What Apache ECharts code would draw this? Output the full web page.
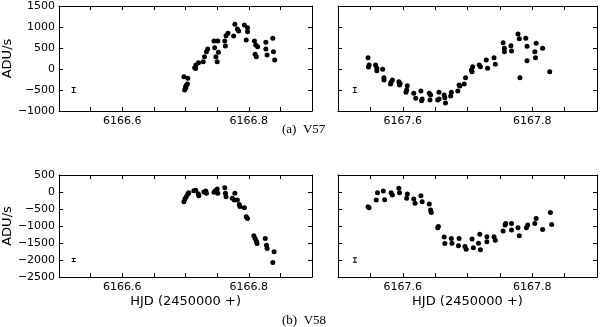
<!DOCTYPE html>
<html>
<head>
<meta charset="utf-8">
<script src="https://cdn.jsdelivr.net/npm/echarts@6/dist/echarts.min.js"></script>
<style>
  html, body { margin: 0; padding: 0; background: #fff; }
  #chart { width: 600px; height: 327px; }
</style>
</head>
<body>
<div id="chart"></div>
<script>
// V57, first night (HJD - 2450000, ADU/s)
var v57Night1 = [
    [6166.6974, -183], [6166.7036, -222], [6166.7015, -381], [6166.7000, -421], [6166.6985, -500],
    [6166.7005, -450], [6166.7030, -360], [6166.7144, 32], [6166.7160, 10], [6166.7164, 95],
    [6166.7205, 151], [6166.7280, 175], [6166.7300, 294], [6166.7330, 413], [6166.7350, 476],
    [6166.7450, 667], [6166.7510, 667], [6166.7460, 508], [6166.7520, 397], [6166.7480, 294],
    [6166.7500, 175], [6166.7620, 667], [6166.7640, 794], [6166.7670, 850], [6166.7630, 548],
    [6166.7760, 786], [6166.7780, 1064], [6166.7820, 953], [6166.7840, 905], [6166.7930, 1048],
    [6166.7980, 985], [6166.7980, 889], [6166.7960, 691], [6166.8090, 667], [6166.8110, 572],
    [6166.8140, 532], [6166.8100, 349], [6166.8120, 294], [6166.8270, 635], [6166.8270, 476],
    [6166.8290, 333], [6166.8380, 730], [6166.8390, 413], [6166.8410, 214]
];
// V57, second night
var v57Night2 = [
    [6167.5464, 270], [6167.5480, 95], [6167.5470, 48], [6167.5580, 95], [6167.5600, 16],
    [6167.5600, -40], [6167.5690, -8], [6167.5710, -206], [6167.5710, -262], [6167.5820, -318],
    [6167.5840, -262], [6167.5810, -357], [6167.5940, -302], [6167.5950, -381], [6167.5960, -349],
    [6167.6070, -397], [6167.6060, -500], [6167.6050, -556], [6167.6170, -580], [6167.6200, -699],
    [6167.6280, -524], [6167.6300, -715], [6167.6290, -754], [6167.6410, -580], [6167.6430, -619],
    [6167.6420, -738], [6167.6540, -738], [6167.6560, -556], [6167.6560, -715], [6167.6640, -619],
    [6167.6650, -683], [6167.6660, -810], [6167.6750, -556], [6167.6740, -643], [6167.6850, -524],
    [6167.6870, -381], [6167.6880, -405], [6167.6950, -357], [6167.6970, -206], [6167.7060, -24],
    [6167.7080, 56], [6167.7070, -64], [6167.7180, 95], [6167.7200, 56], [6167.7290, 214],
    [6167.7310, 16], [6167.7410, 270], [6167.7430, 111], [6167.7550, 627], [6167.7570, 492],
    [6167.7570, 413], [6167.7670, 556], [6167.7680, 429], [6167.7780, 834], [6167.7800, 723],
    [6167.7810, -206], [6167.7900, 730], [6167.7920, 540], [6167.7920, 198], [6167.8040, 413],
    [6167.8050, 270], [6167.8060, 611], [6167.8160, 492], [6167.8270, -64]
];
// V58, first night
var v58Night1 = [
    [6166.6974, -285], [6166.6990, -206], [6166.7010, -138], [6166.7036, -59], [6166.7050, -20],
    [6166.7130, 39], [6166.7160, 49], [6166.7200, -49], [6166.7210, -108], [6166.7290, 0],
    [6166.7320, 29], [6166.7330, -39], [6166.7450, -10], [6166.7470, 39], [6166.7500, 88],
    [6166.7510, -39], [6166.7620, 128], [6166.7630, -39], [6166.7640, -138], [6166.7740, -187],
    [6166.7780, -39], [6166.7770, -236], [6166.7820, -236], [6166.7850, -364], [6166.7860, -423],
    [6166.7930, -462], [6166.7960, -727], [6166.7980, -777], [6166.8080, -1288], [6166.8100, -1366],
    [6166.8120, -1445], [6166.8130, -1514], [6166.8260, -1366], [6166.8280, -1563], [6166.8290, -1661],
    [6166.8400, -1760], [6166.8380, -2074]
];
// V58, second night
var v58Night2 = [
    [6167.5464, -433], [6167.5480, -462], [6167.5590, -236], [6167.5610, -20], [6167.5700, 29],
    [6167.5720, -226], [6167.5820, -20], [6167.5840, -88], [6167.5940, 108], [6167.5950, -20],
    [6167.6060, -187], [6167.6070, -59], [6167.6170, -206], [6167.6190, -334], [6167.6280, -108],
    [6167.6300, -285], [6167.6410, -354], [6167.6430, -531], [6167.6440, -600], [6167.6540, -1052],
    [6167.6550, -1013], [6167.6640, -1327], [6167.6650, -1514], [6167.6750, -1366], [6167.6760, -1504],
    [6167.6870, -1366], [6167.6860, -1583], [6167.6960, -1602], [6167.6980, -1681], [6167.7070, -1386],
    [6167.7090, -1642], [6167.7190, -1239], [6167.7170, -1504], [6167.7200, -1701], [6167.7300, -1317],
    [6167.7300, -1465], [6167.7410, -1317], [6167.7430, -1416], [6167.7550, -1150], [6167.7580, -973],
    [6167.7590, -924], [6167.7680, -924], [6167.7680, -1121], [6167.7780, -1052], [6167.7800, -1288],
    [6167.7910, -1052], [6167.7930, -973], [6167.8040, -924], [6167.8060, -777], [6167.8160, -1101],
    [6167.8280, -600], [6167.8300, -954]
];
// typical error bar per panel: [x, y, half height]
var errBars = [
    [6166.523, -500, 60],
    [6167.526, -500, 60],
    [6166.523, -2000, 45],
    [6167.526, -2000, 65]
];
// axis ranges / ticks
var xNight1 = [6166.5, 6166.9];
var xNight2 = [6167.5, 6167.9];
var xTickStep = 0.05;
var xLabels = [6166.6, 6166.8, 6167.6, 6167.8];
var yV57 = [-1000, 1500];
var yV58 = [-2500, 500];
var yTickStep = 500;

var panels = [
    { data: v57Night1, x: xNight1, y: yV57, grid: { left: 55, top: 6, width: 257, height: 105 } },
    { data: v57Night2, x: xNight2, y: yV57, grid: { left: 338, top: 6, width: 260, height: 105 } },
    { data: v58Night1, x: xNight1, y: yV58, grid: { left: 55, top: 175, width: 257, height: 102 } },
    { data: v58Night2, x: xNight2, y: yV58, grid: { left: 338, top: 175, width: 260, height: 102 } }
];

var FONT = 'DejaVu Sans';

var fmtX = function (v) {
    for (var i = 0; i < xLabels.length; i++) {
        if (Math.abs(v - xLabels[i]) < 1e-6) return xLabels[i].toFixed(1);
    }
    return '';
};
var fmtY = function (v) {
    return String(Math.round(v)).replace('-', '\u2212');
};

var grids = [], xAxes = [], yAxes = [], series = [];
var lineStyle = { color: '#000', width: 1 };

panels.forEach(function (p, i) {
    grids.push(p.grid);
    var bottomRow = i >= 2, leftCol = i % 2 == 0;
    xAxes.push({
        type: 'value', gridIndex: i, min: p.x[0], max: p.x[1], interval: xTickStep,
        axisLine: { onZero: false, lineStyle: lineStyle },
        axisTick: { inside: true, length: 4, lineStyle: lineStyle },
        axisLabel: { formatter: fmtX, color: '#000', fontFamily: FONT, fontSize: 11, margin: 5, showMinLabel: true, showMaxLabel: true },
        splitLine: { show: false },
        name: bottomRow ? 'HJD (2450000 +)' : '', nameLocation: 'middle', nameGap: 18,
        nameTextStyle: { color: '#000', fontFamily: FONT, fontSize: 13 }
    });
    yAxes.push({
        type: 'value', gridIndex: i, min: p.y[0], max: p.y[1], interval: yTickStep,
        axisLine: { onZero: false, lineStyle: lineStyle },
        axisTick: { inside: true, length: 4, lineStyle: lineStyle },
        axisLabel: { show: leftCol, formatter: fmtY, color: '#000', fontFamily: FONT, fontSize: 11, margin: 4 },
        splitLine: { show: false },
        name: leftCol ? 'ADU/s' : '', nameLocation: 'middle', nameGap: 37, nameRotate: 90,
        nameTextStyle: { color: '#000', fontFamily: FONT, fontSize: 13 }
    });
    series.push({
        type: 'scatter', xAxisIndex: i, yAxisIndex: i, data: p.data,
        symbolSize: 5, itemStyle: { color: '#000', opacity: 1 }, silent: true
    });
    series.push({
        type: 'custom', xAxisIndex: i, yAxisIndex: i, data: [errBars[i]], silent: true,
        renderItem: function (params, api) {
            var x = api.value(0), y = api.value(1), e = api.value(2);
            var top = api.coord([x, y + e]), bot = api.coord([x, y - e]);
            var st = { stroke: '#000', lineWidth: 1 };
            return {
                type: 'group', children: [
                    { type: 'line', shape: { x1: top[0], y1: top[1], x2: bot[0], y2: bot[1] }, style: st },
                    { type: 'line', shape: { x1: top[0] - 2, y1: top[1], x2: top[0] + 2, y2: top[1] }, style: st },
                    { type: 'line', shape: { x1: bot[0] - 2, y1: bot[1], x2: bot[0] + 2, y2: bot[1] }, style: st }
                ]
            };
        }
    });
});

// mirror axes on top and right, ticks only
panels.forEach(function (p, i) {
    xAxes.push({
        type: 'value', gridIndex: i, position: 'top', min: p.x[0], max: p.x[1], interval: xTickStep,
        axisLine: { onZero: false, lineStyle: lineStyle },
        axisTick: { inside: true, length: 4, lineStyle: lineStyle },
        axisLabel: { show: false }, splitLine: { show: false }
    });
    yAxes.push({
        type: 'value', gridIndex: i, position: 'right', min: p.y[0], max: p.y[1], interval: yTickStep,
        axisLine: { onZero: false, lineStyle: lineStyle },
        axisTick: { inside: true, length: 4, lineStyle: lineStyle },
        axisLabel: { show: false }, splitLine: { show: false }
    });
});

var myChart = echarts.init(document.getElementById('chart'), null, { renderer: 'canvas' });
myChart.setOption({
    backgroundColor: '#fff',
    animation: false,
    grid: grids,
    xAxis: xAxes,
    yAxis: yAxes,
    series: series,
    graphic: [
        { type: 'text', left: 282, top: 123, style: { text: '(a)  V57', font: '13px "Liberation Serif"', fill: '#000' } },
        { type: 'text', left: 282, top: 314, style: { text: '(b)  V58', font: '13px "Liberation Serif"', fill: '#000' } }
    ]
});
</script>
</body>
</html>
